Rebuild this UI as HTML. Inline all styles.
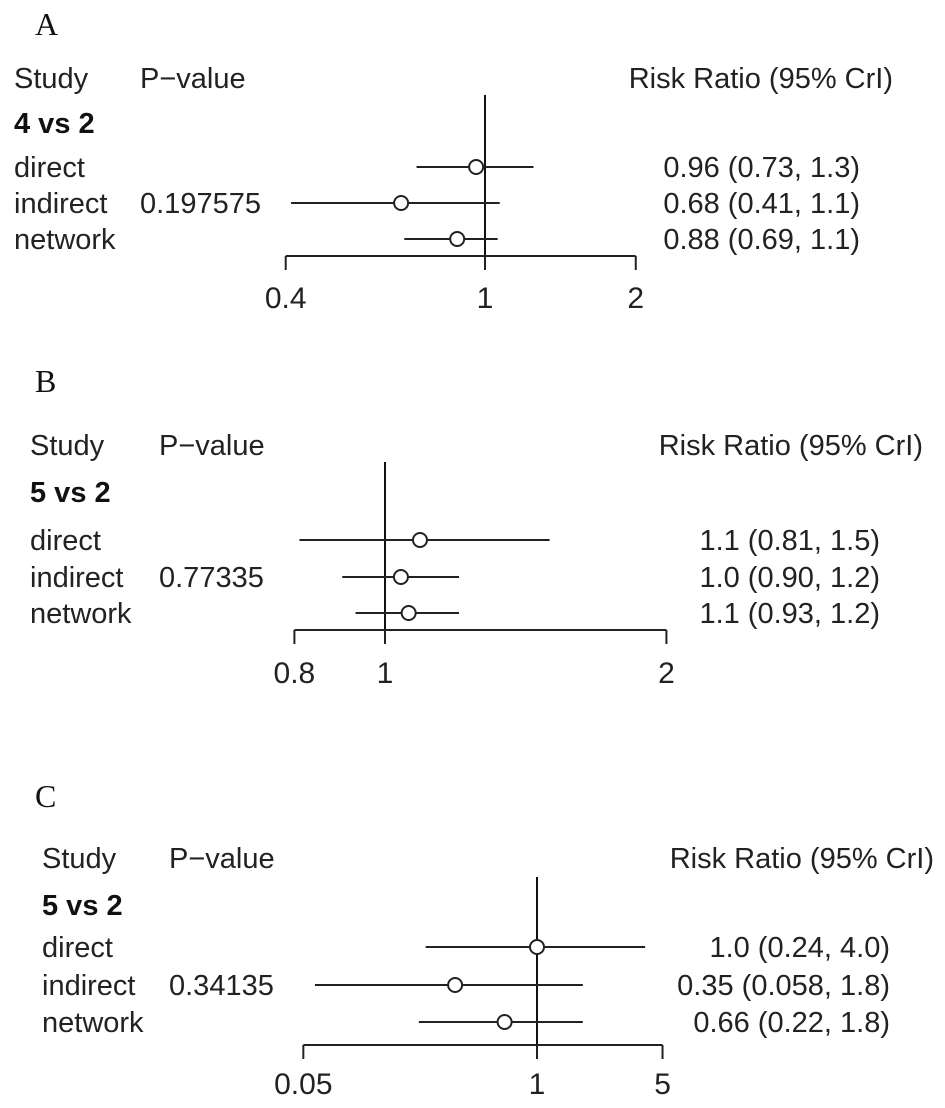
<!DOCTYPE html>
<html><head><meta charset="utf-8"><style>
body{margin:0;background:#fff;}
svg{display:block;font-family:"Liberation Sans",Arial,sans-serif;}
</style></head><body>
<svg id="chart" width="945" height="1108" viewBox="0 0 945 1108" xmlns="http://www.w3.org/2000/svg"></svg>
<script>
const panelLetters = ["A","B","C"];
const comparisons = ["4 vs 2","5 vs 2","5 vs 2"];
const rowLabels = ["direct","indirect","network"];
const pValues = ["0.197575","0.77335","0.34135"];
const estA = [0.96, 0.68, 0.88];
const lowA = [0.73, 0.41, 0.69];
const highA = [1.25, 1.07, 1.06];
const estB = [1.09, 1.04, 1.06];
const lowB = [0.81, 0.90, 0.93];
const highB = [1.5, 1.2, 1.2];
const estC = [1.0, 0.35, 0.66];
const lowC = [0.24, 0.058, 0.22];
const highC = [4.0, 1.8, 1.8];
const textA = ["0.96 (0.73, 1.3)","0.68 (0.41, 1.1)","0.88 (0.69, 1.1)"];
const textB = ["1.1 (0.81, 1.5)","1.0 (0.90, 1.2)","1.1 (0.93, 1.2)"];
const textC = ["1.0 (0.24, 4.0)","0.35 (0.058, 1.8)","0.66 (0.22, 1.8)"];
const ticksA = [0.4, 1, 2];
const ticksB = [0.8, 1, 2];
const ticksC = [0.05, 1, 5];
const tickLabelsA = ["0.4","1","2"];
const tickLabelsB = ["0.8","1","2"];
const tickLabelsC = ["0.05","1","5"];

const svg = document.getElementById('chart');
const NS = "http://www.w3.org/2000/svg";
const FS = 29;
function mk(tag, attrs, txt){
  const e = document.createElementNS(NS, tag);
  for (const k in attrs) e.setAttribute(k, attrs[k]);
  if (txt !== undefined) e.textContent = txt;
  svg.appendChild(e);
  return e;
}
const layouts = [
  {letterY:35, headY:88, compY:133, rows:[167,203,239], axisY:256, lineTop:95, x1:485, scale:217.5, studyX:14, pX:140, ciX:860, headerRight:893,
   est:estA, low:lowA, high:highA, txt:textA, ticks:ticksA, tl:tickLabelsA, labY:308},
  {letterY:392, headY:455, compY:502, rows:[540,577,613], axisY:630, lineTop:462, x1:385, scale:406, studyX:30, pX:159, ciX:880, headerRight:923,
   est:estB, low:lowB, high:highB, txt:textB, ticks:ticksB, tl:tickLabelsB, labY:683},
  {letterY:807, headY:868, compY:915, rows:[947,985,1022], axisY:1045, lineTop:877, x1:537, scale:78, studyX:42, pX:169, ciX:890, headerRight:934,
   est:estC, low:lowC, high:highC, txt:textC, ticks:ticksC, tl:tickLabelsC, labY:1094}
];
layouts.forEach((L, p) => {
  const sx = v => L.x1 + L.scale * Math.log(v);
  let e;
  e = mk('text',{x:35,y:L.letterY,'font-family':'"Liberation Serif",serif','font-size':32,fill:'#111'}, panelLetters[p]);
   
  e = mk('text',{x:L.studyX,y:L.headY,'font-size':FS,fill:'#222'},'Study');
   
  e = mk('text',{x:L.pX,y:L.headY,'font-size':FS,fill:'#222'},'P\u2212value');
   
  e = mk('text',{x:L.headerRight,y:L.headY,'font-size':FS,fill:'#222','text-anchor':'end'},'Risk Ratio (95% CrI)');
   
  e = mk('text',{x:L.studyX,y:L.compY,'font-size':FS,'font-weight':'bold',fill:'#111'},comparisons[p]);
   
  e = mk('line',{x1:sx(1),x2:sx(1),y1:L.lineTop,y2:L.axisY+14,stroke:'#111','stroke-width':2});
   
  const t0 = sx(L.ticks[0]), t1 = sx(L.ticks[L.ticks.length-1]);
  e = mk('line',{x1:t0,x2:t1,y1:L.axisY,y2:L.axisY,stroke:'#222','stroke-width':2});
   
  L.ticks.forEach((t,i) => {
    e = mk('line',{x1:sx(t),x2:sx(t),y1:L.axisY,y2:L.axisY+14,stroke:'#222','stroke-width':2});
     
    e = mk('text',{x:sx(t),y:L.labY,'font-size':30,fill:'#222','text-anchor':'middle'},L.tl[i]);
     
  });
  rowLabels.forEach((r,i) => {
    const y = L.rows[i];
    e = mk('text',{x:L.studyX,y:y+10,'font-size':FS,fill:'#222'},r);
     
    if (i === 1) {
      e = mk('text',{x:L.pX,y:y+10,'font-size':FS,fill:'#222'},pValues[p]);
       
    }
    e = mk('line',{x1:sx(L.low[i]),x2:sx(L.high[i]),y1:y,y2:y,stroke:'#222','stroke-width':2});
     
    e = mk('circle',{cx:sx(L.est[i]),cy:y,r:7,fill:'#fff',stroke:'#222','stroke-width':2});
     
    e = mk('text',{x:L.ciX,y:y+10,'font-size':FS,fill:'#222','text-anchor':'end'},L.txt[i]);
     
  });
});
</script>
</body></html>
